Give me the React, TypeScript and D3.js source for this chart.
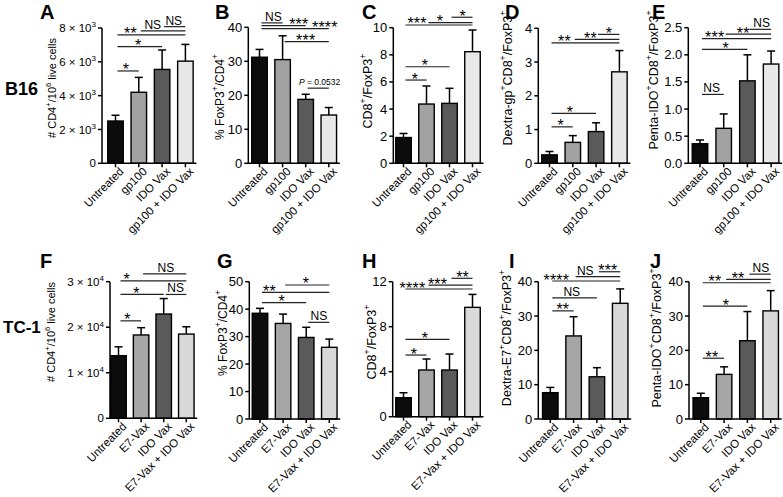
import React from "react";
import * as d3 from "d3";

// ---------- DATA ----------
const topCategories = ["Untreated", "gp100", "IDO Vax", "gp100 + IDO Vax"];
const bottomCategories = ["Untreated", "E7-Vax", "IDO Vax", "E7-Vax + IDO Vax"];

type Cmp = { a: number; b: number; level: number; label: string; at: number };

const aMeans = [2500, 4200, 5550, 6040];
const aSem = [340, 880, 1150, 990];
const aTicks = [0, 2000, 4000, 6000, 8000];
const aComparisons: Cmp[] = [
  { a: 0, b: 1, level: 5460, label: "*", at: 0.45 },
  { a: 0, b: 2, level: 6900, label: "*", at: 0.97 },
  { a: 0, b: 3, level: 7590, label: "**", at: 0.64 },
  { a: 1, b: 3, level: 7830, label: "NS", at: 1.6 },
  { a: 2, b: 3, level: 8080, label: "NS", at: 2.5 },
];

const bMeans = [31.2, 30.5, 18.8, 14.2];
const bSem = [2.3, 7.0, 1.5, 2.2];
const bTicks = [0, 10, 20, 30, 40];
const bComparisons: Cmp[] = [
  { a: 0, b: 1, level: 41.3, label: "NS", at: 0.6 },
  { a: 0, b: 2, level: 40.5, label: "***", at: 1.7 },
  { a: 0, b: 3, level: 39.6, label: "****", at: 2.83 },
  { a: 1, b: 3, level: 35.8, label: "***", at: 2.0 },
  { a: 2, b: 3, level: 22.1, label: "P = 0.0532", at: 2.6 },
];

const cMeans = [1.9, 4.37, 4.42, 8.23];
const cSem = [0.3, 1.33, 1.11, 1.6];
const cTicks = [0, 2, 4, 6, 8, 10];
const cComparisons: Cmp[] = [
  { a: 0, b: 1, level: 6.14, label: "*", at: 0.5 },
  { a: 0, b: 2, level: 7.12, label: "*", at: 0.93 },
  { a: 0, b: 3, level: 10.2, label: "***", at: 0.59 },
  { a: 1, b: 3, level: 10.37, label: "*", at: 1.59 },
  { a: 2, b: 3, level: 10.77, label: "*", at: 2.57 },
];

const dMeans = [0.25, 0.62, 0.94, 2.71];
const dSem = [0.1, 0.2, 0.26, 0.63];
const dTicks = [0, 1, 2, 3, 4];
const dComparisons: Cmp[] = [
  { a: 0, b: 1, level: 1.08, label: "*", at: 0.48 },
  { a: 0, b: 2, level: 1.48, label: "*", at: 0.88 },
  { a: 0, b: 3, level: 3.57, label: "**", at: 0.64 },
  { a: 1, b: 3, level: 3.67, label: "**", at: 1.76 },
  { a: 2, b: 3, level: 3.82, label: "*", at: 2.55 },
];

const eMeans = [0.36, 0.645, 1.52, 1.83];
const eSem = [0.07, 0.265, 0.48, 0.24];
const eTicks = [0, 0.5, 1.0, 1.5, 2.0, 2.5];
const eComparisons: Cmp[] = [
  { a: 0, b: 1, level: 1.27, label: "NS", at: 0.49 },
  { a: 0, b: 2, level: 2.1, label: "*", at: 1.09 },
  { a: 0, b: 3, level: 2.3, label: "***", at: 0.62 },
  { a: 1, b: 3, level: 2.38, label: "**", at: 1.82 },
  { a: 2, b: 3, level: 2.47, label: "NS", at: 2.6 },
];

const fMeans = [13750, 18300, 22900, 18500];
const fSem = [1950, 1600, 3400, 1600];
const fTicks = [0, 10000, 20000, 30000];
const fComparisons: Cmp[] = [
  { a: 0, b: 1, level: 21400, label: "*", at: 0.4 },
  { a: 0, b: 2, level: 27200, label: "*", at: 0.8 },
  { a: 2, b: 3, level: 27200, label: "NS", at: 2.53 },
  { a: 0, b: 3, level: 30200, label: "*", at: 0.36 },
  { a: 1, b: 3, level: 31700, label: "NS", at: 2.1 },
];

const gMeans = [38.5, 34.8, 29.7, 26.1];
const gSem = [1.8, 3.4, 3.7, 3.0];
const gTicks = [0, 10, 20, 30, 40, 50];
const gComparisons: Cmp[] = [
  { a: 0, b: 2, level: 42.4, label: "*", at: 0.94 },
  { a: 0, b: 3, level: 46.1, label: "**", at: 0.41 },
  { a: 1, b: 3, level: 48.8, label: "*", at: 1.99 },
  { a: 2, b: 3, level: 35.2, label: "NS", at: 2.55 },
];

const hMeans = [1.69, 4.15, 4.15, 9.72];
const hSem = [0.44, 0.98, 1.42, 1.15];
const hTicks = [0, 4, 8, 12];
const hComparisons: Cmp[] = [
  { a: 0, b: 1, level: 5.48, label: "*", at: 0.46 },
  { a: 0, b: 2, level: 6.88, label: "*", at: 0.93 },
  { a: 0, b: 3, level: 11.35, label: "****", at: 0.39 },
  { a: 1, b: 3, level: 11.7, label: "***", at: 1.48 },
  { a: 2, b: 3, level: 12.3, label: "**", at: 2.57 },
];

const iMeans = [7.67, 24.2, 12.3, 33.7];
const iSem = [1.53, 5.6, 2.65, 4.2];
const iTicks = [0, 10, 20, 30, 40];
const iComparisons: Cmp[] = [
  { a: 0, b: 1, level: 31.5, label: "**", at: 0.54 },
  { a: 0, b: 2, level: 35.3, label: "NS", at: 0.92 },
  { a: 0, b: 3, level: 40.2, label: "****", at: 0.26 },
  { a: 1, b: 3, level: 41.5, label: "NS", at: 1.5 },
  { a: 2, b: 3, level: 42.9, label: "***", at: 2.47 },
];

const jMeans = [6.2, 13.0, 22.8, 31.5];
const jSem = [1.3, 2.2, 8.5, 5.9];
const jTicks = [0, 10, 20, 30, 40];
const jComparisons: Cmp[] = [
  { a: 0, b: 1, level: 17.7, label: "**", at: 0.48 },
  { a: 0, b: 2, level: 32.9, label: "*", at: 1.08 },
  { a: 0, b: 3, level: 39.7, label: "**", at: 0.61 },
  { a: 1, b: 3, level: 40.7, label: "**", at: 1.6 },
  { a: 2, b: 3, level: 42.2, label: "NS", at: 2.58 },
];

// ---------- STYLE / LAYOUT ----------
const FONT = "'Liberation Sans', Arial, Helvetica, sans-serif";
const topFills = ["#0c0c0c", "#a2a2a2", "#5a5a5a", "#e8e8e8"];
const bottomFills = ["#0c0c0c", "#a6a6a6", "#5a5a5a", "#d9d9d9"];

type Layout = {
  axisX: number; y0: number; yTop: number; offset: number; step: number;
  letterX: number; letterY: number; labelX: number; labelY: number;
  labelSize: number; tickSize: number;
};

type Spec = {
  letter: string; categories: string[]; means: number[]; sems: number[];
  ticks: number[]; comps: Cmp[]; yLabel: string; fmt: string; fills: string[]; layout: Layout;
};

const panels: Spec[] = [
  { letter: "A", categories: topCategories, means: aMeans, sems: aSem, ticks: aTicks, comps: aComparisons,
    yLabel: "# CD4^+^/10^6^ live cells", fmt: "sci", fills: topFills,
    layout: { axisX: 102, y0: 163.3, yTop: 28, offset: 13.5, step: 23.3, letterX: 40, letterY: 19, labelX: 52, labelY: 88, labelSize: 11, tickSize: 11.5 } },
  { letter: "B", categories: topCategories, means: bMeans, sems: bSem, ticks: bTicks, comps: bComparisons,
    yLabel: "% FoxP3^+^/CD4^+", fmt: "int", fills: topFills,
    layout: { axisX: 248.3, y0: 163.3, yTop: 27.3, offset: 11.2, step: 23.1, letterX: 215, letterY: 19, labelX: 220, labelY: 97, labelSize: 12, tickSize: 13 } },
  { letter: "C", categories: topCategories, means: cMeans, sems: cSem, ticks: cTicks, comps: cComparisons,
    yLabel: "CD8^+^/FoxP3^+", fmt: "int", fills: topFills,
    layout: { axisX: 393.3, y0: 163.3, yTop: 27.7, offset: 10.2, step: 23, letterX: 362, letterY: 19, labelX: 368, labelY: 91, labelSize: 12.5, tickSize: 13 } },
  { letter: "D", categories: topCategories, means: dMeans, sems: dSem, ticks: dTicks, comps: dComparisons,
    yLabel: "Dextra-gp^+^CD8^+^/FoxP3^+", fmt: "int", fills: topFills,
    layout: { axisX: 538.3, y0: 163.3, yTop: 28.3, offset: 11.2, step: 23.3, letterX: 505, letterY: 19, labelX: 508, labelY: 78, labelSize: 12.5, tickSize: 13 } },
  { letter: "E", categories: topCategories, means: eMeans, sems: eSem, ticks: eTicks, comps: eComparisons,
    yLabel: "Penta-IDO^+^CD8^+^/FoxP3^+", fmt: "dec", fills: topFills,
    layout: { axisX: 688.3, y0: 163.3, yTop: 27.7, offset: 11.7, step: 23.7, letterX: 652, letterY: 19, labelX: 654, labelY: 80, labelSize: 12.5, tickSize: 13 } },
  { letter: "F", categories: bottomCategories, means: fMeans, sems: fSem, ticks: fTicks, comps: fComparisons,
    yLabel: "# CD4^+^/10^6^ live cells", fmt: "sci", fills: bottomFills,
    layout: { axisX: 110, y0: 418.3, yTop: 281.7, offset: 8.5, step: 22.6, letterX: 40, letterY: 268, labelX: 51, labelY: 332, labelSize: 11, tickSize: 11.5 } },
  { letter: "G", categories: bottomCategories, means: gMeans, sems: gSem, ticks: gTicks, comps: gComparisons,
    yLabel: "% FoxP3^+^/CD4^+", fmt: "int", fills: bottomFills,
    layout: { axisX: 249.3, y0: 419, yTop: 281.7, offset: 10.7, step: 23.1, letterX: 217, letterY: 268, labelX: 222.5, labelY: 333, labelSize: 12, tickSize: 13 } },
  { letter: "H", categories: bottomCategories, means: hMeans, sems: hSem, ticks: hTicks, comps: hComparisons,
    yLabel: "CD8^+^/FoxP3^+", fmt: "int", fills: bottomFills,
    layout: { axisX: 392.7, y0: 416.7, yTop: 281.7, offset: 10.8, step: 23, letterX: 362, letterY: 268, labelX: 372, labelY: 342, labelSize: 12.5, tickSize: 13 } },
  { letter: "I", categories: bottomCategories, means: iMeans, sems: iSem, ticks: iTicks, comps: iComparisons,
    yLabel: "Dextra-E7^+^CD8^+^/FoxP3^+", fmt: "int", fills: bottomFills,
    layout: { axisX: 538.3, y0: 419, yTop: 281.7, offset: 12, step: 23.3, letterX: 509, letterY: 268, labelX: 507, labelY: 338, labelSize: 12.5, tickSize: 13 } },
  { letter: "J", categories: bottomCategories, means: jMeans, sems: jSem, ticks: jTicks, comps: jComparisons,
    yLabel: "Penta-IDO^+^CD8^+^/FoxP3^+", fmt: "int", fills: bottomFills,
    layout: { axisX: 689, y0: 419, yTop: 281.7, offset: 11.8, step: 23.3, letterX: 650, letterY: 268, labelX: 657, labelY: 338, labelSize: 12.5, tickSize: 13 } },
];

function richText(s: string, fs: number) {
  const parts = s.split("^");
  const out: React.ReactNode[] = [];
  let prevSup = false;
  parts.forEach((p, i) => {
    if (!p) return;
    const sup = i % 2 === 1;
    let dy = 0;
    if (sup && !prevSup) dy = -fs * 0.4;
    if (!sup && prevSup) dy = fs * 0.4;
    out.push(
      <tspan key={i} dy={dy} fontSize={sup ? fs * 0.7 : fs}>{p}</tspan>
    );
    prevSup = sup;
  });
  return out;
}

function TickLabel({ v, fmt, size }: { v: number; fmt: string; size: number }) {
  if (fmt === "sci" && v !== 0) {
    const exp = Math.floor(Math.log10(v));
    const m = Math.round(v / Math.pow(10, exp));
    return (
      <>
        <tspan>{`${m} × 10`}</tspan>
        <tspan dy={-size * 0.4} fontSize={size * 0.7}>{exp}</tspan>
      </>
    );
  }
  if (fmt === "dec") return <>{d3.format(".1f")(v)}</>;
  return <>{String(v)}</>;
}

function Panel({ spec }: { spec: Spec }) {
  const L = spec.layout;
  const maxT = spec.ticks[spec.ticks.length - 1];
  const y = d3.scaleLinear().domain([0, maxT]).range([L.y0, L.yTop]);
  const x = d3.scaleLinear().domain([0, 1]).range([L.axisX + L.offset, L.axisX + L.offset + L.step]);
  const bw = 15.5;
  const n = spec.categories.length;
  const xEnd = x(n - 1) + 11;
  return (
    <g fontFamily={FONT}>
      <text x={L.letterX} y={L.letterY} fontSize={20} fontWeight="bold">{spec.letter}</text>
      {spec.means.map((m, i) => (
        <g key={i}>
          <line x1={x(i)} x2={x(i)} y1={y(m)} y2={y(m + spec.sems[i])} stroke="#000" strokeWidth={1.5} />
          <line x1={x(i) - 4} x2={x(i) + 4} y1={y(m + spec.sems[i])} y2={y(m + spec.sems[i])} stroke="#000" strokeWidth={1.5} />
          <rect x={x(i) - bw / 2} y={y(m)} width={bw} height={L.y0 - y(m)} fill={spec.fills[i]} stroke="#000" strokeWidth={1.4} />
        </g>
      ))}
      <line x1={L.axisX} x2={L.axisX} y1={L.y0} y2={L.yTop} stroke="#000" strokeWidth={1.5} />
      {spec.ticks.map((t) => (
        <g key={t}>
          <line x1={L.axisX - 4} x2={L.axisX} y1={y(t)} y2={y(t)} stroke="#000" strokeWidth={1.5} />
          <text x={L.axisX - 6} y={y(t)} dy="0.35em" textAnchor="end" fontSize={L.tickSize}>
            <TickLabel v={t} fmt={spec.fmt} size={L.tickSize} />
          </text>
        </g>
      ))}
      <line x1={L.axisX} x2={xEnd} y1={L.y0} y2={L.y0} stroke="#000" strokeWidth={1.5} />
      {spec.categories.map((c, i) => (
        <g key={c}>
          <line x1={x(i)} x2={x(i)} y1={L.y0} y2={L.y0 + 4} stroke="#000" strokeWidth={1.5} />
          <text transform={`translate(${x(i) + 3},${L.y0 + 3}) rotate(-45)`} textAnchor="end" dy="0.72em" fontSize={11.5}>{c}</text>
        </g>
      ))}
      <text transform={`translate(${L.labelX},${L.labelY}) rotate(-90)`} textAnchor="middle" dominantBaseline="central" fontSize={L.labelSize}>
        {richText(spec.yLabel, L.labelSize)}
      </text>
      {spec.comps.map((c, k) => {
        const ly = y(c.level);
        const lx = x(c.at);
        const isStar = c.label.startsWith("*");
        const isP = c.label.startsWith("P");
        return (
          <g key={k}>
            <line x1={x(c.a) + 2} x2={x(c.b)} y1={ly} y2={ly} stroke="#222" strokeWidth={1.2} />
            {isStar ? (
              <text x={lx} y={ly + 4.5} textAnchor="middle" fontSize={16} letterSpacing={0.2}>{c.label}</text>
            ) : isP ? (
              <text x={lx} y={ly - 3} textAnchor="middle" fontSize={8.5}>
                <tspan fontStyle="italic">P</tspan>{c.label.slice(1)}
              </text>
            ) : (
              <text x={lx} y={ly - 2} textAnchor="middle" fontSize={12}>{c.label}</text>
            )}
          </g>
        );
      })}
    </g>
  );
}

export default function App() {
  return (
    <svg width={783} height={497} style={{ position: "absolute", left: 0, top: 0, background: "#fff" }}>
      <rect width={783} height={497} fill="#fff" />
      <text x={5} y={95} fontFamily={FONT} fontSize={18} fontWeight="bold">B16</text>
      <text x={3} y={333} fontFamily={FONT} fontSize={17} fontWeight="bold">TC-1</text>
      {panels.map((p) => (
        <Panel key={p.letter} spec={p} />
      ))}
    </svg>
  );
}
